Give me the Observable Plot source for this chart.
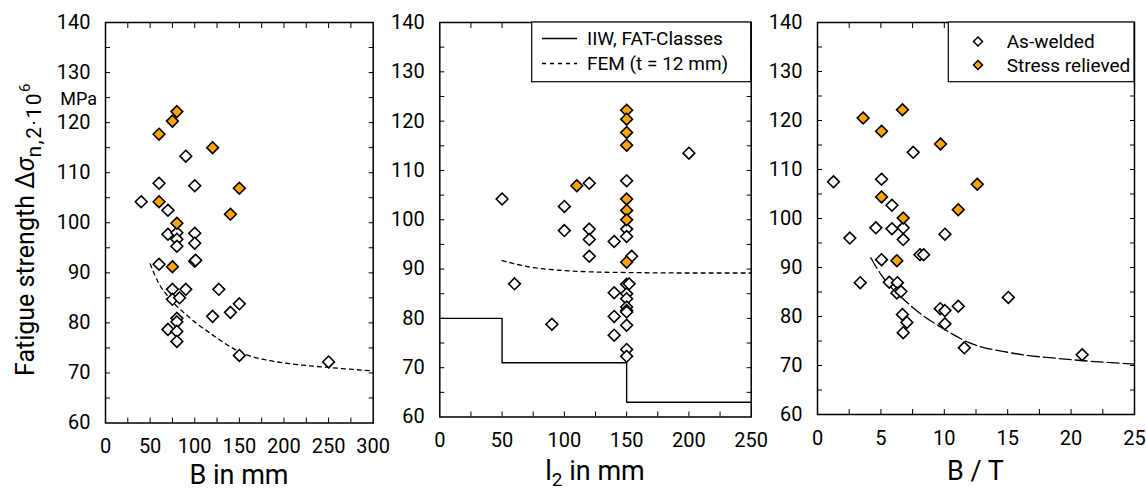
<!DOCTYPE html>
<html>
<head>
<meta charset="utf-8">
<script src="https://cdn.jsdelivr.net/npm/d3@7"></script>
<script src="https://cdn.jsdelivr.net/npm/@observablehq/plot@0.6"></script>
<style>
  body { margin: 0; background: #fff; }
  #fig { position: relative; width: 1146px; height: 490px; font-family: Roboto, sans-serif; }
  #fig svg { position: absolute; left: 0; top: 0; overflow: visible; }
</style>
</head>
<body>
<div id="fig"></div>
<script>
// ---- Fatigue strength (MPa) against plate width B ----
const bAsWelded  = [90, 60, 100, 40, 70, 70, 80, 100, 80, 80, 100, 100, 101, 60, 75, 90, 127, 75, 83, 150, 140, 120, 80, 80, 70, 80, 80, 150, 250];
const sAsWeldedB = [113.3, 107.9, 107.4, 104.2, 102.5, 97.7, 98, 97.9, 96.7, 95.3, 95.9, 92.3, 92.5, 91.7, 86.7, 86.7, 86.7, 84.7, 85, 83.8, 82.1, 81.3, 80.9, 80.2, 78.7, 78.3, 76.3, 73.5, 72.2];
const bRelieved  = [80, 75, 60, 120, 150, 60, 140, 80, 75];
const sRelievedB = [122.2, 120.3, 117.7, 115, 106.9, 104.2, 101.7, 99.9, 91.2];
const femB  = [50, 60, 70, 80, 90, 100, 120, 140, 160, 180, 200, 250, 300];
const femSB = [91.8, 87.8, 85.3, 83.3, 81.7, 80.2, 77.6, 75.2, 73.5, 72.6, 72.0, 71.1, 70.4];

// ---- against attachment length l2 ----
const l2AsWelded  = [200, 120, 150, 50, 100, 150, 150, 100, 120, 120, 140, 120, 154, 60, 150, 152, 140, 150, 150, 150, 150, 150, 140, 90, 150, 140, 150, 150];
const sAsWeldedL2 = [113.5, 107.4, 107.9, 104.2, 102.7, 98.1, 96.6, 97.8, 98.1, 96, 95.6, 92.6, 92.6, 87, 86.9, 87, 85.2, 85, 84, 82.3, 81.6, 81.3, 80.4, 78.8, 78.6, 76.6, 73.7, 72.3];
const l2Relieved  = [150, 150, 150, 150, 110, 150, 150, 150, 150];
const sRelievedL2 = [122.2, 120.4, 117.7, 115.1, 106.9, 104.2, 101.9, 100, 91.4];
const femL2  = [50, 75, 100, 125, 150, 200, 250];
const femSL2 = [91.7, 90.3, 89.7, 89.4, 89.3, 89.2, 89.2];
const iiwL2  = [0, 50, 50, 150, 150, 250];
const iiwS   = [80, 80, 71, 71, 63, 63];

// ---- against width-to-thickness ratio B/T ----
const btAsWelded  = [1.26, 5.05, 7.55, 5.87, 4.6, 5.87, 6.76, 6.76, 2.55, 10.05, 8.08, 8.37, 5.05, 3.37, 5.66, 6.3, 6.26, 6.58, 15.05, 11.1, 9.68, 10.05, 6.7, 7.05, 10.05, 6.76, 11.58, 20.87];
const sAsWeldedBT = [107.5, 108, 113.5, 102.7, 98.1, 97.9, 98.1, 95.7, 96, 96.8, 92.6, 92.6, 91.6, 86.9, 87, 86.9, 84.8, 85.1, 83.9, 82.1, 81.6, 81.2, 80.4, 78.8, 78.5, 76.7, 73.6, 72.2];
const btRelieved  = [3.6, 5.05, 6.7, 9.7, 12.6, 5.05, 11.1, 6.76, 6.26];
const sRelievedBT = [120.5, 117.8, 122.2, 115.2, 107, 104.4, 101.8, 100.1, 91.4];
const femBT  = [4.2, 5, 6, 7, 8, 10, 12, 15, 20, 25];
const femSBT = [92, 88.6, 85.4, 83, 80.8, 77.4, 74.6, 72.7, 71.2, 70.3];

// ---- ticks ----
const yTickLabels = [60, 70, 80, 90, 100, 110, 120, 130, 140];
const yTicks = [65, 70, 75, 80, 85, 90, 95, 100, 105, 110, 115, 120, 125, 130, 135];
const mmTickLabels = [0, 50, 100, 150, 200, 250, 300];
const mmTicks = [25, 50, 75, 100, 125, 150, 175, 200, 225, 250, 275];
const ratioTickLabels = [0, 5, 10, 15, 20, 25];
const ratioTicks = [2.5, 5, 7.5, 10, 12.5, 15, 17.5, 20, 22.5];

const W = 1146, H = 490, TOP = 22;
const ORANGE = "#ffa500";
const FONT = "Roboto, sans-serif";
const fig = document.getElementById("fig");

const rows = (xs, ys) => xs.map((x, i) => ({x, s: ys[i]}));

function points(xs, ys, fill) {
  return Plot.dot(rows(xs, ys), {x: "x", y: "s", symbol: "diamond2", r: 5.3, fill, stroke: "#000", strokeWidth: 1.6});
}

function panel({left, right, bottom, xDomain, xTicks, xLabels, marks}) {
  const svg = Plot.plot({
    width: W, height: H,
    marginLeft: left, marginRight: W - right, marginTop: TOP, marginBottom: H - bottom,
    style: {fontFamily: FONT, fontSize: "20px", background: "transparent", overflow: "visible"},
    x: {domain: xDomain, axis: null},
    y: {domain: [60, 140], axis: null},
    marks: [
      ...marks,
      Plot.axisY(yTicks, {anchor: "left", tickSize: -5, fill: "none", label: null}),
      Plot.axisY(yTicks, {anchor: "right", tickSize: -5, fill: "none", label: null}),
      Plot.axisX(xTicks, {anchor: "bottom", tickSize: -5, fill: "none", label: null}),
      Plot.axisX(xTicks, {anchor: "top", tickSize: -5, fill: "none", label: null}),
      Plot.axisY(yTickLabels, {anchor: "left", tickSize: 0, tickPadding: 15, label: null}),
      Plot.axisX(xLabels, {anchor: "bottom", tickSize: 0, tickPadding: 16, label: null}),
      Plot.frame({stroke: "#000", strokeWidth: 1.5})
    ]
  });
  fig.appendChild(svg);
  return d3.select(svg);
}

function axisTitle(sel, x, y) {
  return sel.append("text").attr("x", x).attr("y", y)
    .attr("text-anchor", "middle").attr("font-size", 27).attr("font-family", FONT).attr("fill", "#000");
}

// Panel 1: B in mm
const s1 = panel({
  left: 105, right: 372.7, bottom: 422.5, xDomain: [0, 300], xTicks: mmTicks, xLabels: mmTickLabels,
  marks: [
    Plot.line(rows(femB, femSB), {x: "x", y: "s", curve: "monotone-x", stroke: "#000", strokeWidth: 1.3, strokeDasharray: "4,4"}),
    points(bAsWelded, sAsWeldedB, "#fff"),
    points(bRelieved, sRelievedB, ORANGE)
  ]
});
axisTitle(s1, 239, 484).text("B in mm");

// y title and unit
const yt = s1.append("text")
  .attr("transform", "translate(34,376) rotate(-90)")
  .attr("text-anchor", "start").attr("font-size", 25).attr("font-family", FONT).attr("fill", "#000");
yt.append("tspan").text("Fatigue strength Δ");
yt.append("tspan").attr("font-style", "italic").text("σ");
yt.append("tspan").attr("dy", 7).attr("font-size", 21).attr("letter-spacing", 1.5).text("n,2·10");
yt.append("tspan").attr("dy", -11).attr("font-size", 15).text("6");
s1.append("text").attr("x", 97).attr("y", 99).attr("dy", "0.35em")
  .attr("text-anchor", "end").attr("font-size", 18).attr("font-family", FONT).attr("fill", "#000").text("MPa");

// Panel 2: l2 in mm
const s2 = panel({
  left: 439.3, right: 750.7, bottom: 416.5, xDomain: [0, 250],
  xTicks: mmTicks.filter(d => d < 250), xLabels: mmTickLabels.filter(d => d <= 250),
  marks: [
    Plot.line(rows(iiwL2, iiwS), {x: "x", y: "s", stroke: "#000", strokeWidth: 1.4}),
    Plot.line(rows(femL2, femSL2), {x: "x", y: "s", curve: "monotone-x", stroke: "#000", strokeWidth: 1.3, strokeDasharray: "4,4"}),
    points(l2AsWelded, sAsWeldedL2, "#fff"),
    points(l2Relieved, sRelievedL2, ORANGE)
  ]
});
const t2 = axisTitle(s2, 595, 480);
t2.append("tspan").text("l");
t2.append("tspan").attr("dy", 6).attr("font-size", 19).text("2");
t2.append("tspan").attr("dy", -6).text(" in mm");

// legend: reference lines
const lg2 = s2.append("g").attr("font-family", FONT).attr("font-size", 19).attr("fill", "#000").attr("text-anchor", "start");
lg2.append("rect").attr("x", 531.7).attr("y", TOP).attr("width", 750.7 - 531.7).attr("height", 81.7 - TOP)
  .attr("fill", "#fff").attr("stroke", "#000").attr("stroke-width", 1.2);
lg2.append("line").attr("x1", 542).attr("x2", 577).attr("y1", 38.5).attr("y2", 38.5).attr("stroke", "#000").attr("stroke-width", 1.3);
lg2.append("line").attr("x1", 542).attr("x2", 577).attr("y1", 63.5).attr("y2", 63.5).attr("stroke", "#000").attr("stroke-width", 1.3).attr("stroke-dasharray", "4,4");
lg2.append("text").attr("x", 587).attr("y", 38.5).attr("dy", "0.35em").text("IIW, FAT-Classes");
lg2.append("text").attr("x", 587).attr("y", 63.5).attr("dy", "0.35em").text("FEM (t = 12 mm)");

// Panel 3: B / T
const s3 = panel({
  left: 817, right: 1134, bottom: 414, xDomain: [0, 25], xTicks: ratioTicks, xLabels: ratioTickLabels,
  marks: [
    Plot.line(rows(femBT, femSBT), {x: "x", y: "s", curve: "monotone-x", stroke: "#000", strokeWidth: 1.3, strokeDasharray: "12,4"}),
    points(btAsWelded, sAsWeldedBT, "#fff"),
    points(btRelieved, sRelievedBT, ORANGE)
  ]
});
axisTitle(s3, 975.5, 480).text("B / T");

// legend: specimen condition
const lg3 = s3.append("g").attr("font-family", FONT).attr("font-size", 19).attr("fill", "#000").attr("text-anchor", "start");
lg3.append("rect").attr("x", 948.3).attr("y", TOP).attr("width", 1134 - 948.3).attr("height", 81.7 - TOP)
  .attr("fill", "#fff").attr("stroke", "#000").attr("stroke-width", 1.2);
[["As-welded", "#fff", 41.5], ["Stress relieved", ORANGE, 65]].forEach(([label, fill, y]) => {
  lg3.append("path").attr("d", "M0,-4.5L4.5,0L0,4.5L-4.5,0Z").attr("transform", `translate(978,${y})`)
    .attr("fill", fill).attr("stroke", "#000").attr("stroke-width", 1.5);
  lg3.append("text").attr("x", 1006.7).attr("y", y).attr("dy", "0.35em").text(label);
});
</script>
</body>
</html>
